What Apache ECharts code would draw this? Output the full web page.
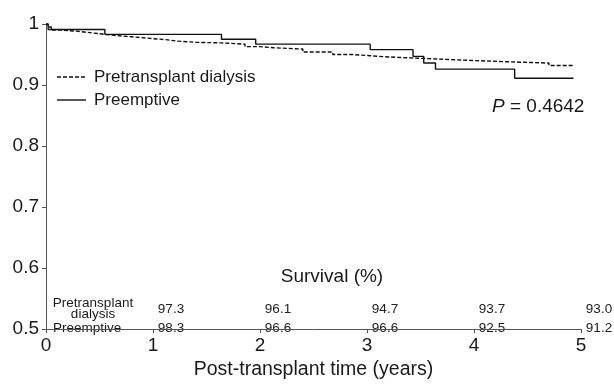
<!DOCTYPE html>
<html>
<head>
<meta charset="utf-8">
<script src="https://cdn.jsdelivr.net/npm/echarts@6/dist/echarts.min.js"></script>
<style>
html,body{margin:0;padding:0;background:#fff;}
#c{width:614px;height:385px;}
</style>
</head>
<body>
<div id="c"></div>
<script>
// ---- data ----
const seriesNames = ['Pretransplant dialysis', 'Preemptive'];
// Kaplan-Meier curve: Pretransplant dialysis (time in years, survival)
const dialysisTimes = [0, 0.02, 0.05, 0.15, 0.3, 0.45, 0.6, 0.8, 1.0, 1.14, 1.22, 1.4, 1.64, 1.86, 2.0, 2.13, 2.4, 2.68, 2.85, 3.03, 3.2, 3.6, 4.02, 4.33, 4.7, 4.93];
const dialysisSurv  = [1.0, 0.995, 0.990, 0.988, 0.985, 0.982, 0.979, 0.976, 0.974, 0.972, 0.970, 0.969, 0.967, 0.963, 0.961, 0.959, 0.954, 0.950, 0.948, 0.946, 0.943, 0.940, 0.938, 0.936, 0.932, 0.931];
// Kaplan-Meier curve: Preemptive
const preemptiveTimes = [0, 0.02, 0.55, 1.64, 1.96, 3.03, 3.43, 3.53, 3.64, 4.38, 4.93];
const preemptiveSurv  = [1.0, 0.991, 0.983, 0.975, 0.967, 0.958, 0.947, 0.936, 0.926, 0.911, 0.911];
// Survival (%) table
const tableYears = [1, 2, 3, 4, 5];
const tableDialysis = [97.3, 96.1, 94.7, 93.7, 93.0];
const tablePreemptive = [98.3, 96.6, 96.6, 92.5, 91.2];
const pValueText = '0.4642';
const xAxisTitle = 'Post-transplant time (years)';
const tableTitle = 'Survival (%)';
const rowLabelDialysis = 'Pretransplant\ndialysis';
const rowLabelPreemptive = 'Preemptive';

const FONT = "'Liberation Sans', Arial, Helvetica, sans-serif";
const TXT = '#1a1a1a';
const chart = echarts.init(document.getElementById('c'), null, {renderer: 'canvas'});

const pairs = (xs, ys) => xs.map((x, i) => [x, ys[i]]);

chart.setOption({
  animation: false,
  backgroundColor: '#fff',
  grid: {left: 46, right: 33, top: 24, bottom: 45},
  xAxis: {
    type: 'value', min: 0, max: 5, interval: 1,
    name: xAxisTitle, nameLocation: 'middle', nameGap: 21,
    nameTextStyle: {fontSize: 19.5, color: TXT, fontFamily: FONT},
    axisLine: {lineStyle: {color: '#555', width: 1}},
    axisTick: {show: true, length: 4, lineStyle: {color: '#555'}},
    axisLabel: {fontSize: 19, color: TXT, fontFamily: FONT, margin: 7},
    splitLine: {show: false}
  },
  yAxis: {
    type: 'value', min: 0.5, max: 1, interval: 0.1,
    axisLine: {show: true, lineStyle: {color: '#555', width: 1}},
    axisTick: {show: true, length: 4, lineStyle: {color: '#555'}},
    axisLabel: {fontSize: 19, color: TXT, fontFamily: FONT, margin: 7},
    splitLine: {show: false}
  },
  series: [
    {
      name: seriesNames[0], type: 'line', step: 'end', symbol: 'none',
      data: pairs(dialysisTimes, dialysisSurv),
      lineStyle: {color: '#111', width: 1.4, type: [4, 2]},
      itemStyle: {color: '#111'}
    },
    {
      name: seriesNames[1], type: 'line', step: 'end', symbol: 'none',
      data: pairs(preemptiveTimes, preemptiveSurv),
      lineStyle: {color: '#111', width: 1.4, type: 'solid'},
      itemStyle: {color: '#111'}
    }
  ]
});

// table numbers placed through the x axis scale
const px = v => chart.convertToPixel({gridIndex: 0}, [v, 0.5])[0];
const numText = (yr, val, y) => ({
  type: 'text', x: px(yr) + 18, y: y, silent: true,
  style: {text: val.toFixed(1), fill: '#222', font: '13.5px ' + FONT, align: 'center', verticalAlign: 'middle'}
});
const graphics = [];
tableYears.forEach((yr, i) => {
  graphics.push(numText(yr, tableDialysis[i], 309));
  graphics.push(numText(yr, tablePreemptive[i], 328));
});
// legend (drawn by hand so the dashed / solid samples match)
graphics.push(
  {type: 'line', shape: {x1: 57, y1: 77, x2: 86, y2: 77}, style: {stroke: '#111', lineWidth: 1.4, lineDash: [4, 2]}},
  {type: 'text', x: 94, y: 77, style: {text: seriesNames[0], fill: TXT, font: '17px ' + FONT, verticalAlign: 'middle'}},
  {type: 'line', shape: {x1: 57, y1: 100, x2: 86, y2: 100}, style: {stroke: '#111', lineWidth: 1.4}},
  {type: 'text', x: 94, y: 100, style: {text: seriesNames[1], fill: TXT, font: '17px ' + FONT, verticalAlign: 'middle'}},
  {type: 'text', x: 492, y: 107, style: {
    text: '{i|P} = ' + pValueText, fill: TXT, font: '19px ' + FONT, verticalAlign: 'middle',
    rich: {i: {fontStyle: 'italic', fontSize: 19, fontFamily: FONT, fill: TXT}}
  }},
  {type: 'text', x: 332, y: 277, style: {
    text: tableTitle, fill: TXT, font: '19px ' + FONT, align: 'center', verticalAlign: 'middle'
  }},
  {type: 'text', x: 93, y: 309, style: {
    text: rowLabelDialysis, fill: TXT, font: '13.5px ' + FONT, align: 'center', verticalAlign: 'middle', lineHeight: 11
  }},
  {type: 'text', x: 53, y: 328, style: {
    text: rowLabelPreemptive, fill: TXT, font: '13.5px ' + FONT, align: 'left', verticalAlign: 'middle'
  }}
);
chart.setOption({graphic: graphics});
</script>
</body>
</html>
